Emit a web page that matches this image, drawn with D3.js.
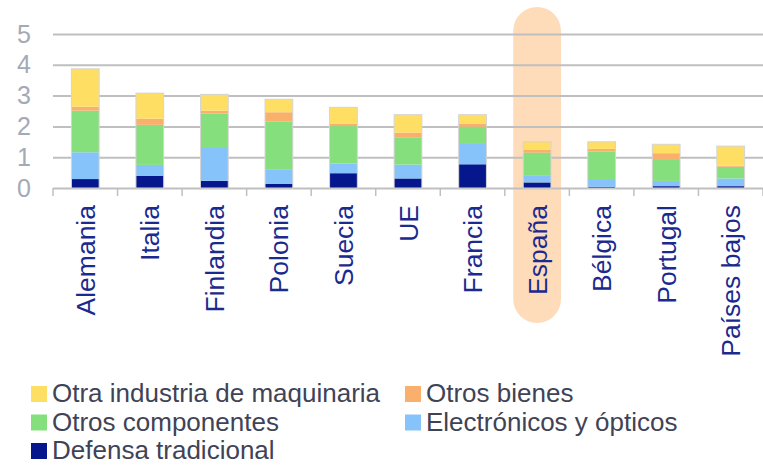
<!DOCTYPE html>
<html>
<head>
<meta charset="utf-8">
<script src="https://cdn.jsdelivr.net/npm/d3@7"></script>
<style>
  body { margin: 0; background: #fff; }
  svg { display: block; font-family: "Liberation Sans", Arial, sans-serif; }
</style>
</head>
<body>
<div id="chart"></div>
<script>
// data
const countries = ["Alemania", "Italia", "Finlandia", "Polonia", "Suecia", "UE", "Francia", "España", "Bélgica", "Portugal", "Países bajos"];
const defensa     = [0.29, 0.39, 0.23, 0.14, 0.48, 0.31, 0.77, 0.18, 0.04, 0.06, 0.06];
const electronicos = [0.87, 0.36, 1.10, 0.45, 0.32, 0.45, 0.66, 0.22, 0.22, 0.17, 0.25];
const componentes = [1.35, 1.30, 1.09, 1.56, 1.21, 0.87, 0.56, 0.75, 0.92, 0.68, 0.38];
const bienes      = [0.13, 0.20, 0.09, 0.31, 0.07, 0.17, 0.09, 0.09, 0.09, 0.22, 0.03];
const maquinaria  = [1.23, 0.83, 0.53, 0.42, 0.54, 0.58, 0.30, 0.26, 0.23, 0.29, 0.64];
const yTicks = [0, 1, 2, 3, 4, 5];
const highlighted = "España";

const seriesKeys = ["defensa", "electronicos", "componentes", "bienes", "maquinaria"];
const seriesNames = {
    maquinaria: "Otra industria de maquinaria",
    bienes: "Otros bienes",
    componentes: "Otros componentes",
    electronicos: "Electrónicos y ópticos",
    defensa: "Defensa tradicional"
};
const colors = {
    defensa: "#06168C",
    electronicos: "#86C3FB",
    componentes: "#84DF7C",
    bienes: "#F8B06C",
    maquinaria: "#FFDF63"
};

const width = 763;
const height = 465;
const plotLeft = 53, plotRight = 763, plotTop = 34, plotBottom = 188;

const rows = countries.map((c, i) => ({
    country: c,
    defensa: defensa[i],
    electronicos: electronicos[i],
    componentes: componentes[i],
    bienes: bienes[i],
    maquinaria: maquinaria[i]
}));

const svg = d3.select("#chart")
    .append("svg")
    .attr("width", width)
    .attr("height", height);

const x = d3.scaleBand()
    .domain(countries)
    .range([plotLeft, plotRight])
    .paddingInner(0.57)
    .paddingOuter(0.285);

const y = d3.scaleLinear()
    .domain([0, 5])
    .range([plotBottom, plotTop]);

// highlight pill behind España
const step = x.step();
const hlWidth = step * 0.74;
const hlX = x(highlighted) + x.bandwidth() / 2 - hlWidth / 2;
svg.append("rect")
    .attr("x", hlX)
    .attr("y", y(5.88))
    .attr("width", hlWidth)
    .attr("height", 323 - y(5.88))
    .attr("rx", hlWidth / 2)
    .attr("ry", hlWidth / 2)
    .attr("fill", "#FEDCBA");

// gridlines + y labels
const yAxis = svg.append("g")
    .attr("transform", `translate(${plotLeft},0)`)
    .call(d3.axisLeft(y).tickValues(yTicks).tickFormat(d3.format("d"))
        .tickSize(-(plotRight - plotLeft)).tickPadding(22));
yAxis.select(".domain").remove();
yAxis.selectAll(".tick line").attr("stroke", "#BFBFBF").attr("stroke-width", 2);
yAxis.selectAll(".tick text")
    .attr("fill", "#A3AAB6")
    .style("font-size", "25px");

// x ticks at category boundaries
svg.append("g")
    .selectAll("line")
    .data(d3.range(countries.length + 1))
    .enter()
    .append("line")
    .attr("x1", i => plotLeft + i * step)
    .attr("x2", i => plotLeft + i * step)
    .attr("y1", plotBottom)
    .attr("y2", plotBottom + 8)
    .attr("stroke", "#BFBFBF")
    .attr("stroke-width", 1.5);

// stacked bars
const stack = d3.stack().keys(seriesKeys);
const stacked = stack(rows);

svg.append("g")
    .selectAll("g")
    .data(stacked)
    .enter()
    .append("g")
    .attr("fill", d => colors[d.key])
    .selectAll("rect")
    .data(d => d)
    .enter()
    .append("rect")
    .attr("x", d => x(d.data.country))
    .attr("y", d => y(d[1]))
    .attr("width", x.bandwidth())
    .attr("height", d => y(d[0]) - y(d[1]));

// thin outline around each bar
svg.append("g")
    .selectAll("rect")
    .data(rows)
    .enter()
    .append("rect")
    .attr("x", d => x(d.country))
    .attr("y", d => y(d3.sum(seriesKeys, k => d[k])))
    .attr("width", x.bandwidth())
    .attr("height", d => plotBottom - y(d3.sum(seriesKeys, k => d[k])))
    .attr("fill", "none")
    .attr("stroke", "#D4D4D4")
    .attr("stroke-width", 1);

// category labels, rotated
svg.append("g")
    .selectAll("text")
    .data(countries)
    .enter()
    .append("text")
    .attr("transform", d => `translate(${x(d) + x.bandwidth() / 2},205) rotate(-90)`)
    .attr("text-anchor", "end")
    .attr("dy", "0.36em")
    .attr("fill", "#1A2A8E")
    .style("font-size", "26.5px")
    .text(d => d);

// legend
const legendItems = [
    { key: "maquinaria", col: 0, row: 0 },
    { key: "bienes", col: 1, row: 0 },
    { key: "componentes", col: 0, row: 1 },
    { key: "electronicos", col: 1, row: 1 },
    { key: "defensa", col: 0, row: 2 }
];
const legend = svg.append("g")
    .selectAll("g")
    .data(legendItems)
    .enter()
    .append("g")
    .attr("transform", d => `translate(${d.col === 0 ? 31 : 405},${402 + d.row * 28.5})`);

legend.append("rect")
    .attr("x", 0)
    .attr("y", -16)
    .attr("width", 16)
    .attr("height", 16)
    .attr("fill", d => colors[d.key]);

legend.append("text")
    .attr("x", 21)
    .attr("y", 0)
    .attr("fill", "#404356")
    .style("font-size", "26px")
    .text(d => seriesNames[d.key]);
</script>
</body>
</html>
